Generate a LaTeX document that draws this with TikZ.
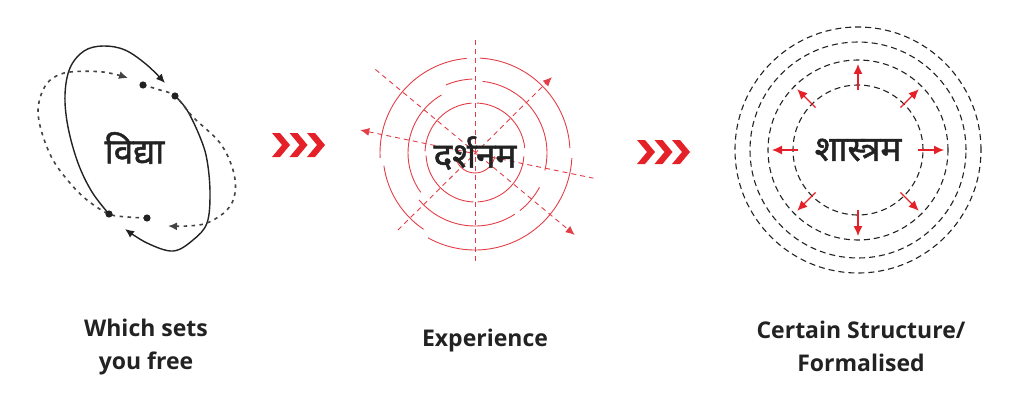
\documentclass[tikz,border=0pt]{standalone}
\usepackage{fontspec}
\setmainfont{Open Sans}
\newfontfamily\deva[Script=Devanagari,FakeBold=1.4]{Noto Sans}
\usetikzlibrary{arrows,arrows.meta,positioning,calc}
\definecolor{ink}{RGB}{34,34,34}
\definecolor{redline}{RGB}{226,62,72}
\definecolor{redmark}{RGB}{228,32,40}
\def\rin{60}
\def\rlen{26}
\tikzstyle{word} = [font=\deva\fontsize{35}{35}\selectfont, text=ink, inner sep=0pt]
\tikzstyle{caption} = [font=\bfseries\fontsize{23}{33}\selectfont, align=center, text=ink]
\tikzstyle{orbit} = [line width=1.4pt, ink]
\tikzstyle{orbitdash} = [line width=1.6pt, ink!85, dash pattern=on 3.5pt off 4.5pt]
\tikzstyle{ring} = [line width=0.9pt, redline]
\tikzstyle{ray} = [line width=0.9pt, redline, dash pattern=on 5pt off 4pt]
\tikzstyle{shell} = [line width=1.1pt, ink, dash pattern=on 6pt off 4pt]
\tikzstyle{push} = [line width=1.2pt, redmark, -{Latex[length=10pt,width=9pt]}]
\tikzstyle{chevron} = [fill=redmark, draw=none]

\begin{document}
\begin{tikzpicture}[x=1pt,y=1pt,>=latex,
        tip/.style={-{Latex[length=9pt,width=8pt]}}]
        \useasboundingbox (0,0) rectangle (1026,416);
        \coordinate (vc) at (134.5,268);
        \coordinate (dc) at (475,263);
        \coordinate (sc) at (858,266);
        % vidya : two orbits
        \draw[orbit, tip] plot[smooth, tension=0.6] coordinates {(109,202) (92,224) (78,253) (68,289) (65,321) (70,348) (84,365) (103,370) (125,366) (147,351) (165,333)};
        \draw[orbit, tip] plot[smooth, tension=0.6] coordinates {(175,320) (187,306) (200,279) (207,256) (210,223) (207,193) (193,176) (173,165) (147,173) (125,187)};
        \draw[orbitdash, tip] plot[smooth, tension=0.6] coordinates {(143,331) (160,326) (175,320) (193,299) (220,273) (233,246) (235,223) (227,206) (207,193) (187,190) (168,190)};
        \draw[orbitdash, tip] plot[smooth, tension=0.6] coordinates {(147,198) (128,199) (109,202) (87,216) (70,233) (53,256) (42,283) (38,306) (43,326) (53,338) (70,344) (103,344) (128,338)};
        \foreach \p in {(143,331),(175,320),(147,198),(109,202)}
            \fill[ink] \p circle[radius=3.6];
        % chevrons
        \foreach \gx/\gy in {272/283, 637/276}
            \foreach \i in {0,1,2}
                \fill[chevron] (\gx+17.5*\i,\gy) -- ++(8,0) -- ++(10,-12) -- ++(-10,-12) -- ++(-8,0) -- ++(10,12) -- cycle;
        % darshanam : broken rings
        \foreach \r/\a/\b in {95/95/183, 95/3/87, 92/188/236, 97/241/357,
                74/92/113, 67/120/216, 72/-14/84, 73/220/303, 73/308/332,
                50/94/178, 49/183/268, 49/273/356, 50/6/88,
                20/190/350}
            \draw[ring] (dc) ++(\a:\r) arc[start angle=\a, end angle=\b, radius=\r];
        \draw[ray, {Latex[length=9pt,width=8pt]}-] ($(dc)+(168.7:117)$) -- ($(dc)+(-12:121)$);
        \draw[ray, tip] ($(dc)+(225:109)$) -- ($(dc)+(44.6:108)$);
        \draw[ray, tip] ($(dc)+(140:130)$) -- ($(dc)+(-39.4:129)$);
        \draw[ray] ($(dc)+(0,113)$) -- ($(dc)+(0,-109)$);
        % shastram : dashed shells
        \foreach \r in {65,90,108,123}
            \draw[shell] (sc) circle[radius=\r];
        \foreach \a in {0,45,...,315}
            \draw[push] (sc) ++(\a:\rin) -- ++(\a:\rlen);
        \node[word] (vidya) at (vc) {विद्या};
        \node[word] (darshan) at (dc) {दर्शनम};
        \node[word] (shastra) at (sc) {शास्त्रम};
        \node[caption] (free) at (146,69) {Which sets\\you free};
        \node[caption] (exp) at (485,75) {Experience};
        \node[caption] (form) at (861,70) {Certain Structure/\\Formalised};
\end{tikzpicture}
\end{document}
